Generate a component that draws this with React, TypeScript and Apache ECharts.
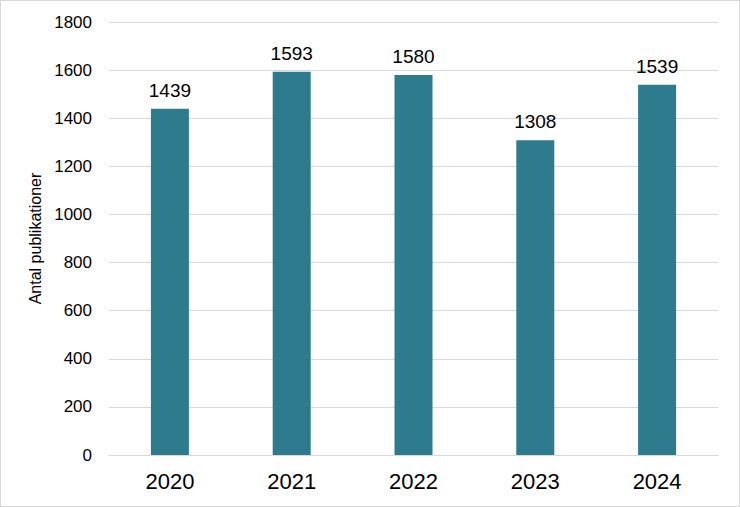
import React, { useEffect, useRef } from "react";
import * as echarts from "echarts";

const years = ["2020", "2021", "2022", "2023", "2024"];
const publications = [1439, 1593, 1580, 1308, 1539];
const yTicks = { min: 0, max: 1800, interval: 200 };
const yAxisTitle = "Antal publikationer";

export default function App() {
  const ref = useRef<HTMLDivElement>(null);
  useEffect(() => {
    document.body.style.margin = "0";
    const chart = echarts.init(ref.current!, null, { renderer: "svg" });
    chart.setOption({
      animation: false,
      textStyle: { fontFamily: "Liberation Sans, Arial, sans-serif" },
      grid: { left: 108, right: 21, top: 21, bottom: 51 },
      xAxis: {
        type: "category",
        data: years,
        axisLine: { lineStyle: { color: "#d9d9d9", width: 1 } },
        axisTick: { show: false },
        axisLabel: { color: "#000", fontSize: 22, margin: 15 },
      },
      yAxis: {
        type: "value",
        min: yTicks.min,
        max: yTicks.max,
        interval: yTicks.interval,
        name: yAxisTitle,
        nameLocation: "middle",
        nameGap: 61,
        nameTextStyle: { color: "#000", fontSize: 16 },
        axisLine: { show: false },
        axisTick: { show: false },
        axisLabel: {
          color: "#000",
          fontSize: 17,
          margin: 17,
          formatter: (v: number) => String(v),
        },
        splitLine: { lineStyle: { color: "#d9d9d9", width: 1 } },
      },
      series: [
        {
          type: "bar",
          data: publications,
          barWidth: 38,
          itemStyle: { color: "#2e7b8e" },
          label: {
            show: true,
            position: "top",
            distance: 9,
            color: "#000",
            fontSize: 19,
          },
        },
      ],
    });
    return () => chart.dispose();
  }, []);
  return (
    <div
      style={{
        position: "fixed",
        left: 0,
        top: 0,
        width: 740,
        height: 507,
        boxSizing: "border-box",
        border: "1px solid #d9d9d9",
        background: "#fff",
      }}
    >
      <div ref={ref} style={{ width: 738, height: 505 }} />
    </div>
  );
}
